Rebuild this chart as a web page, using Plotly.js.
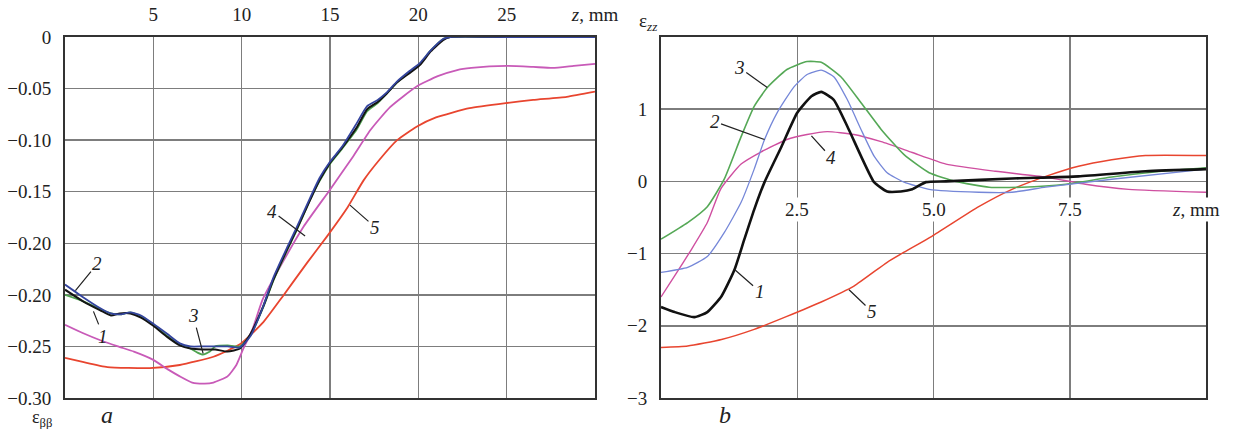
<!DOCTYPE html>
<html>
<head>
<meta charset="utf-8">
<script src="https://cdn.plot.ly/plotly-3.0.1.min.js"></script>
<style>html,body{margin:0;padding:0;background:#fff;}#chart{width:1235px;height:429px;}</style>
</head>
<body>
<div id="chart"></div>
<script>
// ---------- Panel a : epsilon_beta_beta vs z, mm ----------
const aZ1 = [0, 1, 2, 2.6, 3.1, 3.7, 4.3, 5, 5.8, 6.5, 7.1, 7.8, 8.5, 9.2, 9.9, 10.5, 11.2, 11.8, 12.6, 13.1, 13.9, 14.4, 15, 15.7, 16.5, 17.1, 17.7, 18.2, 18.8, 19.5, 20.1, 20.7, 21.4, 21.8, 25, 30];
const aE1 = [-0.245, -0.256, -0.265, -0.270, -0.268, -0.268, -0.272, -0.280, -0.291, -0.299, -0.302, -0.303, -0.303, -0.305, -0.302, -0.288, -0.262, -0.235, -0.205, -0.187, -0.157, -0.139, -0.122, -0.107, -0.088, -0.070, -0.063, -0.055, -0.044, -0.035, -0.027, -0.014, -0.003, 0, 0, 0];
const aZ2 = [0, 1, 2, 2.6, 3.1, 3.7, 4.3, 5, 5.8, 6.5, 7.1, 7.8, 8.5, 9.2, 9.9, 10.5, 11.2, 11.8, 12.6, 13.1, 13.9, 14.4, 15, 15.7, 16.5, 17.1, 17.7, 18.2, 18.8, 19.5, 20.1, 20.7, 21.4, 21.8, 25, 30];
const aE2 = [-0.240, -0.252, -0.263, -0.268, -0.269, -0.267, -0.270, -0.278, -0.288, -0.297, -0.300, -0.300, -0.300, -0.300, -0.301, -0.290, -0.262, -0.233, -0.203, -0.185, -0.155, -0.137, -0.121, -0.106, -0.084, -0.067, -0.061, -0.054, -0.043, -0.033, -0.025, -0.013, -0.002, 0, 0, 0];
const aZ3 = [0, 1, 2, 2.6, 3.1, 3.7, 4.3, 5, 5.8, 6.5, 7.1, 7.5, 7.8, 8.2, 8.5, 9.2, 9.9, 10.5, 11.2, 11.8, 12.6, 13.1, 13.9, 14.4, 15, 15.7, 16.5, 17.1, 17.7, 18.2, 18.8, 19.5, 20.1, 20.7, 21.4, 21.8, 25, 30];
const aE3 = [-0.250, -0.256, -0.264, -0.268, -0.269, -0.267, -0.271, -0.279, -0.290, -0.298, -0.302, -0.306, -0.308, -0.305, -0.300, -0.299, -0.300, -0.289, -0.263, -0.236, -0.206, -0.188, -0.157, -0.140, -0.123, -0.108, -0.090, -0.072, -0.064, -0.055, -0.044, -0.034, -0.026, -0.013, -0.002, 0, 0, 0];
const aZ4 = [0, 1, 2, 3, 3.9, 5, 5.8, 6.5, 7.2, 7.9, 8.4, 9.2, 9.7, 10.1, 10.6, 11.2, 12.3, 13.5, 15, 16.3, 17.3, 18.4, 19.9, 21.1, 22.2, 23, 25, 26.5, 27.6, 28.8, 30];
const aE4 = [-0.279, -0.287, -0.294, -0.300, -0.305, -0.313, -0.322, -0.329, -0.335, -0.336, -0.335, -0.329, -0.318, -0.302, -0.284, -0.254, -0.219, -0.184, -0.148, -0.116, -0.090, -0.068, -0.048, -0.038, -0.032, -0.030, -0.028, -0.029, -0.030, -0.028, -0.026];
const aZ5 = [0, 1, 2.4, 4.8, 6.5, 8.4, 9.9, 11.2, 12.3, 13.7, 14.8, 16, 16.9, 17.8, 18.8, 19.9, 21, 22.9, 25, 26.5, 28.4, 30];
const aE5 = [-0.311, -0.315, -0.320, -0.321, -0.318, -0.310, -0.298, -0.277, -0.252, -0.219, -0.194, -0.165, -0.139, -0.119, -0.100, -0.087, -0.078, -0.069, -0.064, -0.061, -0.058, -0.053];

const aXTicks = [5, 10, 15, 20, 25, 30];
const aXTickText = ["5", "10", "15", "20", "25", "<i>z</i>, mm"];
const aYTicks = [0, -0.05, -0.10, -0.15, -0.20, -0.25, -0.30, -0.35];
const aYTickText = ["0", "\u22120.05", "\u22120.10", "\u22120.15", "\u22120.20", "\u22120.20", "\u22120.25", "\u22120.30"];

// ---------- Panel b : epsilon_zz vs z, mm ----------
const bZ1 = [0, 0.25, 0.61, 0.85, 1.11, 1.35, 1.53, 1.71, 1.9, 2.21, 2.5, 2.76, 2.94, 3.17, 3.42, 3.67, 3.91, 4.15, 4.4, 4.61, 4.86, 5.23, 6.44, 7.66, 8.89, 10];
const bE1 = [-1.74, -1.81, -1.88, -1.81, -1.59, -1.22, -0.80, -0.39, -0.01, 0.48, 0.95, 1.18, 1.24, 1.13, 0.76, 0.35, -0.01, -0.14, -0.14, -0.11, -0.01, 0.0, 0.04, 0.07, 0.14, 0.17];
const bZ2 = [0, 0.49, 0.85, 1.16, 1.47, 1.71, 1.9, 2.13, 2.44, 2.68, 2.94, 3.17, 3.42, 3.67, 3.91, 4.15, 4.46, 4.92, 5.83, 6.44, 7.06, 8.27, 10];
const bE2 = [-1.26, -1.19, -1.04, -0.71, -0.29, 0.17, 0.58, 0.95, 1.31, 1.48, 1.54, 1.45, 1.13, 0.72, 0.35, 0.12, -0.01, -0.11, -0.15, -0.15, -0.08, 0.03, 0.17];
const bZ3 = [0, 0.49, 0.85, 1.16, 1.47, 1.71, 1.95, 2.31, 2.68, 2.94, 3.3, 3.67, 4.04, 4.46, 4.92, 5.41, 6.02, 6.62, 7.43, 8.27, 9.18, 10];
const bE3 = [-0.80, -0.57, -0.35, 0.03, 0.62, 1.04, 1.30, 1.55, 1.66, 1.65, 1.45, 1.09, 0.72, 0.37, 0.12, 0.0, -0.08, -0.08, -0.04, 0.06, 0.14, 0.19];
const bZ4 = [0, 0.25, 0.56, 0.85, 1.1, 1.47, 1.84, 2.31, 2.68, 3.05, 3.54, 4.04, 4.61, 5.23, 6.14, 7.06, 7.79, 8.58, 10];
const bE4 = [-1.60, -1.31, -0.94, -0.57, -0.10, 0.24, 0.41, 0.58, 0.65, 0.69, 0.65, 0.55, 0.40, 0.24, 0.14, 0.06, -0.04, -0.11, -0.15];
const bZ5 = [0, 0.49, 1.11, 1.71, 2.31, 2.94, 3.54, 4.15, 4.46, 4.97, 5.83, 6.44, 7.06, 7.66, 8.27, 8.89, 10];
const bE5 = [-2.30, -2.28, -2.19, -2.05, -1.87, -1.67, -1.45, -1.12, -0.98, -0.76, -0.35, -0.11, 0.07, 0.21, 0.30, 0.36, 0.36];

const bXTicks = [2.5, 5, 7.5];
const bXTickText = ["2.5", "5.0", "7.5"];
const bYTicks = [-3, -2, -1, 0, 1, 2];
const bYTickText = ["\u22123", "\u22122", "\u22121", "0", "1", " "];

// curve labels: [text, z, value, ax, ay]
const aLabels = [["1", 1.61, -0.266, 10, 25], ["2", 0.59, -0.246, 22, -27], ["3", 7.82, -0.307, -10, -38], ["4", 13.59, -0.193, -33, -25], ["5", 16.13, -0.163, 25, 22]];
const bLabels = [["1", 1.35, -1.22, 25, 22], ["2", 1.9, 0.58, -50, -18], ["3", 1.95, 1.30, -28, -20], ["4", 2.76, 0.63, 20, 22], ["5", 3.45, -1.50, 23, 22]];

const FONT = "Liberation Serif";
const W = 1235, H = 429;
const px = v => v / W, py = v => 1 - v / H;

const colA = {1: "#141414", 2: "#34449e", 3: "#4fa24f", 4: "#c85ab8", 5: "#e8452f"};
const colB = {1: "#111111", 2: "#7587d8", 3: "#55a856", 4: "#cf4fa0", 5: "#e8452f"};

function tr(x, y, color, width, xa, ya) {
  return {x: x, y: y, type: "scatter", mode: "lines", xaxis: xa, yaxis: ya,
    line: {color: color, width: width, shape: "spline", smoothing: 0.5}, hoverinfo: "skip", showlegend: false};
}

const data = [
  tr(aZ5, aE5, colA[5], 1.8, "x", "y"),
  tr(aZ4, aE4, colA[4], 1.8, "x", "y"),
  tr(aZ3, aE3, colA[3], 1.8, "x", "y"),
  tr(aZ1, aE1, colA[1], 2.0, "x", "y"),
  tr(aZ2, aE2, colA[2], 1.8, "x", "y"),
  tr(bZ5, bE5, colB[5], 1.5, "x2", "y2"),
  tr(bZ4, bE4, colB[4], 1.4, "x2", "y2"),
  tr(bZ3, bE3, colB[3], 1.6, "x2", "y2"),
  tr(bZ2, bE2, colB[2], 1.3, "x2", "y2"),
  tr(bZ1, bE1, colB[1], 2.6, "x2", "y2")
];

const TF = {family: FONT, size: 19, color: "#222"};
const axBase = {
  showline: true, mirror: true, linecolor: "#333", linewidth: 2,
  showgrid: true, gridcolor: "#7d7d7d", gridwidth: 1.5, zeroline: false,
  ticks: "", tickmode: "array", fixedrange: true, tickfont: TF
};

const annotations = [];
function lab(xr, yr, l) {
  annotations.push({
    xref: xr, yref: yr, x: l[1], y: l[2], ax: l[3], ay: l[4], text: "<i>" + l[0] + "</i>",
    showarrow: true, arrowhead: 0, arrowwidth: 1.2, arrowcolor: "#222", standoff: 0,
    xanchor: "center", yanchor: "middle", font: TF
  });
}
aLabels.forEach(l => lab("x", "y", l));
bLabels.forEach(l => lab("x2", "y2", l));
bXTicks.forEach((t, i) => annotations.push({
  xref: "x2", yref: "y2", x: t, y: 0, yshift: -28, text: bXTickText[i], showarrow: false,
  xanchor: "center", yanchor: "middle", bgcolor: "#ffffff", borderpad: 1, font: TF
}));
annotations.push({xref: "x2", yref: "y2", x: 10, y: 0, yshift: -28, xshift: -10, text: "<i>z</i>, mm",
  xanchor: "center", yanchor: "middle", showarrow: false, bgcolor: "#ffffff", font: TF});
function pa(x, y, text, size) {
  annotations.push({xref: "paper", yref: "paper", x: px(x), y: py(y), text: text, showarrow: false,
    xanchor: "center", yanchor: "middle", font: {family: FONT, size: size, color: "#222"}});
}
pa(42, 418, "\u03b5<sub>\u03b2\u03b2</sub>", 18);
pa(107, 415, "<i>a</i>", 24);
pa(725, 415, "<i>b</i>", 24);
pa(648, 22, "\u03b5<sub><i>zz</i></sub>", 19);

const layout = {
  width: W, height: H,
  margin: {l: 0, r: 0, t: 0, b: 0, pad: 0},
  paper_bgcolor: "#ffffff", plot_bgcolor: "#ffffff",
  showlegend: false,
  font: {family: FONT, size: 19, color: "#222"},
  xaxis: Object.assign({}, axBase, {domain: [px(65), px(595)], range: [0, 30], side: "top",
    tickvals: aXTicks, ticktext: aXTickText, ticklabelstandoff: 6, anchor: "y"}),
  yaxis: Object.assign({}, axBase, {domain: [1 - 398 / H, 1 - 37 / H], range: [-0.35, 0],
    tickvals: aYTicks, ticktext: aYTickText, ticklabelstandoff: 8, anchor: "x"}),
  xaxis2: Object.assign({}, axBase, {domain: [px(661), px(1206)], range: [0, 10],
    tickvals: bXTicks, showticklabels: false, anchor: "y2"}),
  yaxis2: Object.assign({}, axBase, {domain: [1 - 398 / H, 1 - 37 / H], range: [-3, 2],
    tickvals: bYTicks, ticktext: bYTickText, ticklabelstandoff: 8, anchor: "x2"}),
  annotations: annotations
};

Plotly.newPlot("chart", data, layout, {staticPlot: true, displayModeBar: false});
</script>
</body>
</html>
